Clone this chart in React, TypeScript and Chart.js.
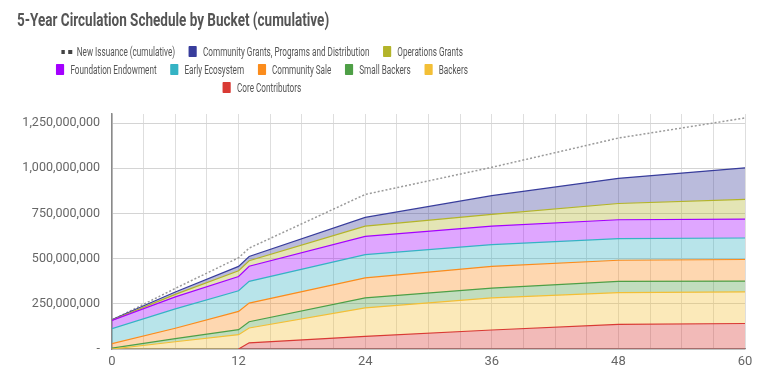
import React, { useEffect, useRef } from 'react';
import { Chart, registerables } from 'chart.js';

Chart.register(...registerables);

// Months since launch (x values)
const MONTHS = [0, 6, 12, 13, 24, 36, 48, 60];

// Circulating amount per bucket, in millions of tokens
const CORE_CONTRIBUTORS = [0, 0, 0, 34, 70, 105, 136, 141];
const BACKERS = [0, 40, 79, 82, 157, 178, 176, 175];
const SMALL_BACKERS = [5, 17, 28, 35, 56, 54, 62, 60];
const COMMUNITY_SALE = [25, 58, 101, 103, 110, 120, 117, 119];
const EARLY_ECOSYSTEM = [83, 107, 114, 120, 129, 120, 120, 119];
const FOUNDATION_ENDOWMENT = [45, 66, 79, 84, 101, 103, 104, 104];
const OPERATIONS_GRANTS = [2, 14, 32, 30, 57, 65, 90, 110];
const COMMUNITY_GRANTS = [3, 13, 24, 24, 48, 103, 139, 174];
const NEW_ISSUANCE = [160, 335, 505, 558, 855, 1005, 1167, 1278];

const UNIT = 1e6;
const Y_MAX = 1300 * UNIT;
// y tick values (millions)
const Y_TICKS = [0, 250, 500, 750, 1000, 1250];
// x tick values (months): gridlines every 3, labels every 12
const X_GRID_STEP = 3;
const X_LABEL_STEP = 12;

const TITLE = '5-Year Circulation Schedule by Bucket (cumulative)';
const ISSUANCE_LABEL = 'New Issuance (cumulative)';

// bottom-to-top stacking order
const SERIES = [
  { name: 'Core Contributors', color: '#d93a34', values: CORE_CONTRIBUTORS },
  { name: 'Backers', color: '#f3bf36', values: BACKERS },
  { name: 'Small Backers', color: '#4e9f46', values: SMALL_BACKERS },
  { name: 'Community Sale', color: '#fb8c1c', values: COMMUNITY_SALE },
  { name: 'Early Ecosystem', color: '#35b3c4', values: EARLY_ECOSYSTEM },
  { name: 'Foundation Endowment', color: '#a400ff', values: FOUNDATION_ENDOWMENT },
  { name: 'Operations Grants', color: '#b3b42a', values: OPERATIONS_GRANTS },
  { name: 'Community Grants, Programs and Distribution', color: '#383d9c', values: COMMUNITY_GRANTS },
];

const TEXT_COLOR = '#555555';
const TICK_COLOR = '#666666';
const LEGEND_SCALE = 0.68;
const TITLE_SCALE = 0.75;

export default function App() {
  const canvasRef = useRef<HTMLCanvasElement>(null);

  useEffect(() => {
    const canvas = canvasRef.current;
    if (!canvas) return;
    const datasets: any[] = SERIES.map((s, i) => ({
      label: s.name,
      data: MONTHS.map((m, j) => ({ x: m, y: s.values[j] * UNIT })),
      borderColor: s.color,
      backgroundColor: s.color + '59',
      borderWidth: 1.2,
      pointRadius: 0,
      pointHoverRadius: 0,
      tension: 0,
      fill: i === 0 ? 'origin' : '-1',
      stack: 'buckets',
      segment: {
        borderColor: (c: any) =>
          c.p0.parsed.y === 0 && c.p1.parsed.y === 0 ? 'rgba(0,0,0,0)' : undefined,
      },
    }));
    datasets.push({
      label: ISSUANCE_LABEL,
      data: MONTHS.map((m, j) => ({ x: m, y: NEW_ISSUANCE[j] * UNIT })),
      borderColor: '#9a9a9a',
      borderDash: [2, 2],
      borderWidth: 1.5,
      pointRadius: 0,
      pointHoverRadius: 0,
      tension: 0,
      fill: false,
      stack: 'issuance',
    });

    const chart = new Chart(canvas, {
      type: 'line',
      data: { datasets },
      options: {
        animation: false,
        responsive: false,
        layout: { padding: { top: 106, right: 14, left: 0, bottom: 0 } },
        plugins: {
          legend: { display: false },
          title: { display: false },
          tooltip: { enabled: false },
        },
        scales: {
          x: {
            type: 'linear',
            min: 0,
            max: 60,
            grid: { color: '#dedede', drawTicks: false, lineWidth: 1 },
            border: { display: true, color: '#8a8a8a', width: 1.2 },
            ticks: {
              stepSize: X_GRID_STEP,
              autoSkip: false,
              maxRotation: 0,
              color: TICK_COLOR,
              font: { family: 'Roboto', size: 13 },
              padding: 5,
              callback: (v: any) => (Number(v) % X_LABEL_STEP === 0 ? String(v) : ''),
            },
            afterFit: (scale: any) => {
              scale.height = 30;
            },
          },
          y: {
            type: 'linear',
            stacked: true,
            min: 0,
            max: Y_MAX,
            grid: { color: '#d4d4d4', drawTicks: false, lineWidth: 1 },
            border: { display: true, color: '#8a8a8a', width: 1.5 },
            ticks: {
              autoSkip: false,
              color: TICK_COLOR,
              font: { family: 'Roboto', size: 12.5 },
              padding: 12,
              callback: (v: any) => (Number(v) === 0 ? '-' : Number(v).toLocaleString('en-US')),
            },
            afterBuildTicks: (scale: any) => {
              scale.ticks = Y_TICKS.map((v) => ({ value: v * UNIT }));
            },
            afterFit: (scale: any) => {
              scale.width = 104;
            },
          },
        },
      },
    });
    return () => chart.destroy();
  }, []);

  const legendItems = [
    { name: ISSUANCE_LABEL, color: '', dotted: true },
    ...SERIES.slice().reverse().map((s) => ({ name: s.name, color: s.color, dotted: false })),
  ];

  return (
    <div style={{ position: 'relative', width: 751, height: 371, fontFamily: 'Roboto' }}>
      <canvas
        ref={canvasRef}
        width={751}
        height={371}
        style={{ position: 'absolute', left: 0, top: 0, width: 751, height: 371, display: 'block' }}
      />
      <div
        style={{
          position: 'absolute',
          left: 9,
          top: 2,
          font: 'bold 18px Roboto',
          lineHeight: '20px',
          color: TEXT_COLOR,
          whiteSpace: 'nowrap',
          transform: `scaleX(${TITLE_SCALE})`,
          transformOrigin: 'left top',
        }}
      >
        {TITLE}
      </div>
      <div
        style={{
          position: 'absolute',
          left: 254 - 325,
          top: 34.5,
          width: 650,
          transform: `scaleX(${LEGEND_SCALE})`,
          transformOrigin: 'center top',
          display: 'flex',
          flexWrap: 'wrap',
          justifyContent: 'center',
          font: '12px Roboto',
          lineHeight: '18px',
          color: TEXT_COLOR,
        }}
      >
        {legendItems.map((it) => (
          <div
            key={it.name}
            style={{ display: 'flex', alignItems: 'center', margin: '0 10px', height: 18, whiteSpace: 'nowrap' }}
          >
            {it.dotted ? (
              <span style={{ display: 'flex', alignItems: 'center', marginRight: 7 }}>
                <span style={{ width: 5.5, height: 4, background: '#444', marginRight: 5 }} />
                <span style={{ width: 5.5, height: 4, background: '#444' }} />
              </span>
            ) : (
              <span
                style={{ width: 12, height: 10.5, background: it.color, marginRight: 9, borderRadius: 1 }}
              />
            )}
            <span>{it.name}</span>
          </div>
        ))}
      </div>
    </div>
  );
}
